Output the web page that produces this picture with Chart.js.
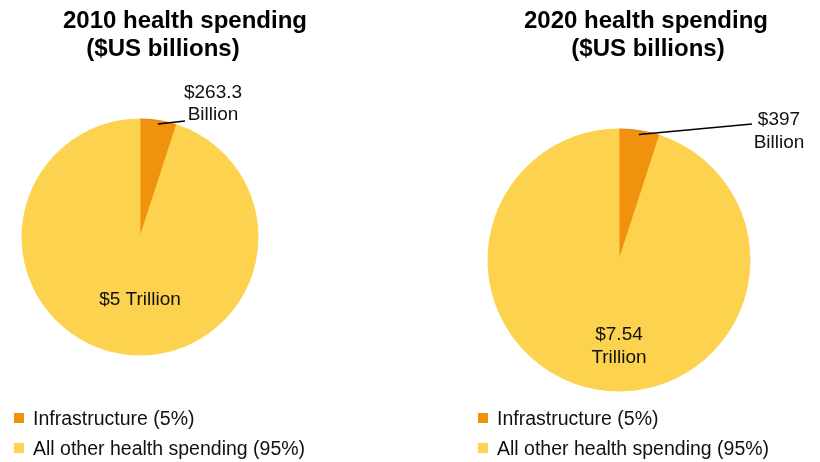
<!DOCTYPE html>
<html>
<head>
<meta charset="utf-8">
<script src="https://cdn.jsdelivr.net/npm/chart.js@4/dist/chart.umd.min.js"></script>
<style>
  body { margin: 0; background: #fff; font-family: "Liberation Sans", Arial, sans-serif; }
  #wrap { position: relative; width: 820px; height: 462px; overflow: hidden; }
  canvas { position: absolute; top: 0; }
  .title { position: absolute; width: 320px; text-align: center; font-weight: bold; font-size: 24px; line-height: 28px; color: #000; }
  .legend { position: absolute; font-size: 19.5px; color: #111; }
  .legend div { position: relative; height: 30px; line-height: 30px; padding-left: 19px; white-space: nowrap; }
  .legend span { position: absolute; left: 0; top: 10px; width: 10px; height: 10px; }
</style>
</head>
<body>
<div id="wrap">
  <canvas id="pie2010" width="410" height="462" style="left:0"></canvas>
  <canvas id="pie2020" width="410" height="462" style="left:410px"></canvas>

  <div class="title" style="left:25px; top:6px">2010 health spending</div>
  <div class="title" style="left:3px; top:34px">($US billions)</div>
  <div class="title" style="left:486px; top:6px">2020 health spending</div>
  <div class="title" style="left:488px; top:34px">($US billions)</div>

  <div class="legend" id="legend2010" style="left:14px; top:403px"></div>
  <div class="legend" id="legend2020" style="left:478px; top:403px"></div>
</div>

<script>
// Data
const categories = ['Infrastructure (5%)', 'All other health spending (95%)'];
const spending2010 = [263.3, 5000];   // $US billions
const spending2020 = [397, 7540];
const sliceColors = ['#F1920E', '#FCD24F'];
const legendColors = ['#F1920E', '#FDD353'];
const outerLabel2010 = ['$263.3', 'Billion'];
const innerLabel2010 = ['$5 Trillion'];
const outerLabel2020 = ['$397', 'Billion'];
const innerLabel2020 = ['$7.54', 'Trillion'];

// draws the value labels + leader line on top of the pie
const sliceLabels = {
    id: 'sliceLabels',
    afterDraw(chart, args, opts) {
        const ctx = chart.ctx;
        const arcs = chart.getDatasetMeta(0).data;
        const small = arcs[0];
        const cx = small.x, cy = small.y, r = small.outerRadius;
        const mid = (small.startAngle + small.endAngle) / 2;

        ctx.save();
        // leader line from the small slice out to its label
        ctx.strokeStyle = '#000';
        ctx.lineWidth = 1.6;
        ctx.beginPath();
        ctx.moveTo(cx + Math.cos(mid) * r * 0.97, cy + Math.sin(mid) * r * 0.97);
        ctx.lineTo(cx + opts.lineEnd[0], cy + opts.lineEnd[1]);
        ctx.stroke();

        ctx.fillStyle = '#111';
        ctx.font = '19px "Liberation Sans", Arial, sans-serif';
        ctx.textAlign = 'center';
        ctx.textBaseline = 'middle';
        opts.outer.forEach((t, i) => {
            ctx.fillText(t, cx + opts.outerPos[0], cy + opts.outerPos[1] + i * opts.lineGap);
        });
        opts.inner.forEach((t, i) => {
            ctx.fillText(t, cx, cy + opts.innerY + i * opts.lineGap);
        });
        ctx.restore();
    }
};

function makePie(id, values, radius, padding, labelOpts) {
    new Chart(document.getElementById(id), {
        type: 'pie',
        data: {
            labels: categories,
            datasets: [{
                data: values,
                backgroundColor: sliceColors,
                borderColor: ['#E5820A', sliceColors[1]],
                borderWidth: 1,
                hoverOffset: 0
            }]
        },
        options: {
            responsive: false,
            animation: false,
            radius: radius,
            layout: { padding: padding },
            plugins: {
                legend: { display: false },
                tooltip: { enabled: false },
                sliceLabels: labelOpts
            }
        },
        plugins: [sliceLabels]
    });
}

makePie('pie2010', spending2010, 118,
    { left: 0, right: 130, top: 12, bottom: 0 },
    { outer: outerLabel2010, inner: innerLabel2010, outerPos: [73, -144], lineEnd: [45, -116], innerY: 63, lineGap: 22 });

makePie('pie2020', spending2020, 131,
    { left: 8, right: 0, top: 58, bottom: 0 },
    { outer: outerLabel2020, inner: innerLabel2020, outerPos: [160, -140], lineEnd: [133, -136], innerY: 75, lineGap: 23 });

// HTML legends
function buildLegend(id) {
    const box = document.getElementById(id);
    categories.forEach((c, i) => {
        const row = document.createElement('div');
        row.innerHTML = `<span style="background:${legendColors[i]}"></span>${c}`;
        box.appendChild(row);
    });
}
buildLegend('legend2010');
buildLegend('legend2020');
</script>
</body>
</html>
